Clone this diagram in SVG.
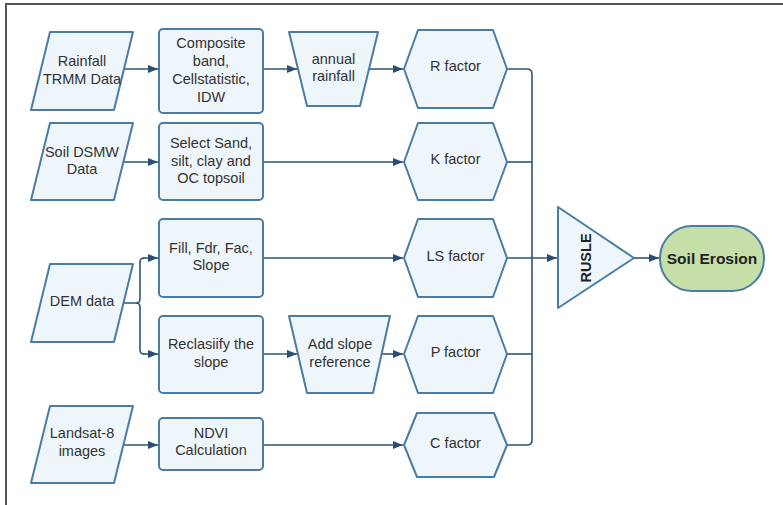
<svg xmlns="http://www.w3.org/2000/svg" width="783" height="505" viewBox="0 0 783 505">
<style>
.n{fill:#eef5fb;stroke:#4b7ca3;stroke-width:2;stroke-linejoin:round}
.t{font-family:"Liberation Sans",Arial,sans-serif;font-size:14.5px;fill:#333;text-anchor:middle}
.b{font-weight:bold;fill:#222}
.c{fill:none;stroke:#2f5577;stroke-width:1.6}
.a{marker-end:url(#ah)}
</style>
<defs>
<marker id="ah" markerUnits="userSpaceOnUse" markerWidth="11" markerHeight="9" refX="10" refY="4" orient="auto">
<path d="M0,0 L10,4 L0,8 z" fill="#2b4f72"/>
</marker>
</defs>
<rect width="783" height="505" fill="#fff"/>
<path d="M6,505 V4 H783" fill="none" stroke="#555" stroke-width="2"/>

<g id="connectors">
<path class="c a" d="M124,69 H158"/>
<path class="c a" d="M263,69 H297"/>
<path class="c a" d="M369,69 H403"/>
<path class="c a" d="M124,162 H158"/>
<path class="c a" d="M263,162 H403"/>
<path class="c" d="M124,303 H136 Q140,303 140,299 V262 Q140,258 144,258"/>
<path class="c a" d="M143,258 H158"/>
<path class="c" d="M136,303 Q140,303 140,307 V350 Q140,354 144,354"/>
<path class="c a" d="M143,354 H158"/>
<path class="c a" d="M263,258 H403"/>
<path class="c a" d="M263,354 H297"/>
<path class="c a" d="M381,354 H403"/>
<path class="c a" d="M124,445 H158"/>
<path class="c a" d="M263,445 H403"/>
<path class="c" d="M507,69 H527 Q532,69 532,74 V440 Q532,445 527,445 H507"/>
<path class="c" d="M507,162 H532"/>
<path class="c" d="M507,354 H532"/>
<path class="c a" d="M507,258 H557"/>
<path class="c a" d="M634,258 H659"/>
</g>

<g id="rainfall">
<polygon class="n" points="50,32 133,32 114,110 31,110"/>
<text class="t" x="82" y="66">Rainfall</text>
<text class="t" x="82" y="84">TRMM Data</text>
</g>
<g id="composite">
<rect class="n" x="159" y="29" width="104" height="84" rx="4"/>
<text class="t" x="211" y="48">Composite</text>
<text class="t" x="211" y="66">band,</text>
<text class="t" x="211" y="84">Cellstatistic,</text>
<text class="t" x="211" y="102">IDW</text>
</g>
<g id="annual">
<polygon class="n" points="289,32 378,32 360,106 307,106"/>
<text class="t" x="333.5" y="64">annual</text>
<text class="t" x="333.5" y="81">rainfall</text>
</g>
<g id="rfactor">
<polygon class="n" points="404,69 418,30 493,30 507,69 493,108 418,108"/>
<text class="t" x="455.5" y="71">R factor</text>
</g>

<g id="soil">
<polygon class="n" points="50,123 133,123 114,200 31,200"/>
<text class="t" x="82" y="157">Soil DSMW</text>
<text class="t" x="82" y="174">Data</text>
</g>
<g id="select">
<rect class="n" x="159" y="123" width="104" height="77" rx="4"/>
<text class="t" x="211" y="148">Select Sand,</text>
<text class="t" x="211" y="166">silt, clay and</text>
<text class="t" x="211" y="183">OC topsoil</text>
</g>
<g id="kfactor">
<polygon class="n" points="404,162 418,123 493,123 507,162 493,200 418,200"/>
<text class="t" x="455.5" y="164">K factor</text>
</g>

<g id="dem">
<polygon class="n" points="50,264 133,264 114,342 31,342"/>
<text class="t" x="82" y="306">DEM data</text>
</g>
<g id="fill">
<rect class="n" x="159" y="219" width="104" height="78" rx="4"/>
<text class="t" x="211" y="253">Fill, Fdr, Fac,</text>
<text class="t" x="211" y="270">Slope</text>
</g>
<g id="lsfactor">
<polygon class="n" points="404,258 418,219 493,219 507,258 493,297 418,297"/>
<text class="t" x="455.5" y="261">LS factor</text>
</g>
<g id="reclassify">
<rect class="n" x="159" y="316" width="104" height="77" rx="4"/>
<text class="t" x="211" y="349">Reclasiify the</text>
<text class="t" x="211" y="367">slope</text>
</g>
<g id="addslope">
<polygon class="n" points="289,316 390,316 373,393 307,393"/>
<text class="t" x="340" y="349">Add slope</text>
<text class="t" x="340" y="367">reference</text>
</g>
<g id="pfactor">
<polygon class="n" points="404,354 418,316 493,316 507,354 493,393 418,393"/>
<text class="t" x="455.5" y="357">P factor</text>
</g>

<g id="landsat">
<polygon class="n" points="50,406 133,406 114,483 31,483"/>
<text class="t" x="82" y="438">Landsat-8</text>
<text class="t" x="82" y="456">images</text>
</g>
<g id="ndvi">
<rect class="n" x="159" y="418" width="104" height="52" rx="4"/>
<text class="t" x="211" y="438">NDVI</text>
<text class="t" x="211" y="455">Calculation</text>
</g>
<g id="cfactor">
<polygon class="n" points="404,445 417,413 494,413 507,445 494,477 417,477"/>
<text class="t" x="455.5" y="448">C factor</text>
</g>

<g id="rusle">
<polygon class="n" points="558,207 634,258 558,308"/>
<text class="t b" x="0" y="0" font-size="14" transform="translate(591,258) rotate(-90)">RUSLE</text>
</g>
<g id="erosion">
<rect x="660" y="226" width="104" height="65" rx="32" fill="#c6dfa9" stroke="#4b7ca3" stroke-width="2"/>
<text class="t b" x="712" y="264" style="font-size:15.5px">Soil Erosion</text>
</g>
</svg>
